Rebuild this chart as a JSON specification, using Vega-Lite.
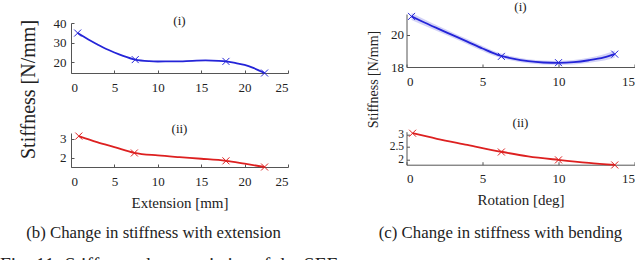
{
  "$schema": "https://vega.github.io/schema/vega-lite/v6.json",
  "padding": {"left": 0, "top": 0, "right": 0, "bottom": 0},
  "background": "white",
  "config": {
    "font": "Liberation Serif, Times New Roman, serif",
    "view": {"stroke": null},
    "axis": {
      "grid": false,
      "domainColor": "#555555",
      "tickColor": "#555555",
      "tickSize": -3,
      "labelFont": "Liberation Serif, Times New Roman, serif",
      "labelFontSize": 13,
      "labelColor": "#222222",
      "labelOverlap": false,
      "titleFont": "Liberation Serif, Times New Roman, serif",
      "titleFontSize": 15,
      "titleFontWeight": "normal",
      "titleColor": "#222222",
      "titlePadding": 7
    },
    "axisX": {"labelPadding": 11},
    "axisY": {"labelPadding": 8},
    "title": {"font": "Liberation Serif, Times New Roman, serif", "fontWeight": "normal", "fontSize": 13, "color": "#222222", "offset": 1}
  },
  "datasets": {
    "ext_i_curve": [
      {"extension": 0.77, "stiffness": 34.9},
      {"extension": 2, "stiffness": 31.6},
      {"extension": 3, "stiffness": 29.2},
      {"extension": 4, "stiffness": 26.9},
      {"extension": 5, "stiffness": 25.0},
      {"extension": 6, "stiffness": 23.3},
      {"extension": 7.4, "stiffness": 21.4},
      {"extension": 9, "stiffness": 20.6},
      {"extension": 10, "stiffness": 20.45},
      {"extension": 12, "stiffness": 20.5},
      {"extension": 14, "stiffness": 20.8},
      {"extension": 15.5, "stiffness": 21.0},
      {"extension": 17, "stiffness": 20.8},
      {"extension": 17.85, "stiffness": 20.5},
      {"extension": 19, "stiffness": 19.6},
      {"extension": 20, "stiffness": 18.7},
      {"extension": 21, "stiffness": 17.2},
      {"extension": 22.3, "stiffness": 14.6}
    ],
    "ext_i_points": [
      {"extension": 0.77, "stiffness": 34.9},
      {"extension": 7.4, "stiffness": 21.4},
      {"extension": 17.85, "stiffness": 20.5},
      {"extension": 22.3, "stiffness": 14.6}
    ],
    "ext_ii_curve": [
      {"extension": 0.9, "stiffness": 3.14},
      {"extension": 3, "stiffness": 2.83},
      {"extension": 5, "stiffness": 2.57},
      {"extension": 7.3, "stiffness": 2.27},
      {"extension": 10, "stiffness": 2.13},
      {"extension": 12.5, "stiffness": 2.04},
      {"extension": 15, "stiffness": 1.96},
      {"extension": 17.85, "stiffness": 1.85},
      {"extension": 20, "stiffness": 1.7},
      {"extension": 22.3, "stiffness": 1.53}
    ],
    "ext_ii_points": [
      {"extension": 0.9, "stiffness": 3.14},
      {"extension": 7.3, "stiffness": 2.26},
      {"extension": 17.85, "stiffness": 1.85},
      {"extension": 22.3, "stiffness": 1.53}
    ],
    "rot_i_curve": [
      {"rotation": 0.33, "stiffness": 21.15, "lower": 20.93, "upper": 21.37},
      {"rotation": 1, "stiffness": 20.85, "lower": 20.65, "upper": 21.05},
      {"rotation": 2, "stiffness": 20.42, "lower": 20.24, "upper": 20.6},
      {"rotation": 3, "stiffness": 20.0, "lower": 19.83, "upper": 20.17},
      {"rotation": 4, "stiffness": 19.58, "lower": 19.42, "upper": 19.74},
      {"rotation": 5, "stiffness": 19.15, "lower": 19.0, "upper": 19.3},
      {"rotation": 6, "stiffness": 18.76, "lower": 18.62, "upper": 18.9},
      {"rotation": 7, "stiffness": 18.52, "lower": 18.39, "upper": 18.65},
      {"rotation": 8, "stiffness": 18.36, "lower": 18.23, "upper": 18.49},
      {"rotation": 9, "stiffness": 18.28, "lower": 18.15, "upper": 18.41},
      {"rotation": 10, "stiffness": 18.26, "lower": 18.13, "upper": 18.39},
      {"rotation": 11, "stiffness": 18.3, "lower": 18.16, "upper": 18.44},
      {"rotation": 12, "stiffness": 18.42, "lower": 18.26, "upper": 18.58},
      {"rotation": 13, "stiffness": 18.6, "lower": 18.41, "upper": 18.79},
      {"rotation": 13.7, "stiffness": 18.8, "lower": 18.58, "upper": 19.02}
    ],
    "rot_i_points": [
      {"rotation": 0.33, "stiffness": 21.15},
      {"rotation": 6.24, "stiffness": 18.66},
      {"rotation": 10.0, "stiffness": 18.27},
      {"rotation": 13.7, "stiffness": 18.8}
    ],
    "rot_ii_curve": [
      {"rotation": 0.4, "stiffness": 3.04},
      {"rotation": 2, "stiffness": 2.82},
      {"rotation": 4, "stiffness": 2.58},
      {"rotation": 6.24, "stiffness": 2.31},
      {"rotation": 8, "stiffness": 2.13},
      {"rotation": 10, "stiffness": 1.99},
      {"rotation": 12, "stiffness": 1.87},
      {"rotation": 13.7, "stiffness": 1.79}
    ],
    "rot_ii_points": [
      {"rotation": 0.4, "stiffness": 3.04},
      {"rotation": 6.24, "stiffness": 2.3},
      {"rotation": 10.0, "stiffness": 1.99},
      {"rotation": 13.7, "stiffness": 1.79}
    ]
  },
  "title": {
    "text": "Fig. 11: Stiffness characteristics of the SEE",
    "orient": "bottom",
    "anchor": "start",
    "fontSize": 19.5,
    "offset": 14,
    "dx": -18.5
  },
  "spacing": 76.5,
  "hconcat": [
    {
      "title": {"text": "(b) Change in stiffness with extension", "orient": "bottom", "anchor": "middle", "fontSize": 16.8, "offset": 15},
      "bounds": "flush",
      "spacing": 60,
      "vconcat": [
        {
          "width": 217,
          "height": 59,
          "title": {"text": "(i)", "offset": -3, "dy": 10.5},
          "encoding": {
            "x": {"field": "extension", "type": "quantitative", "scale": {"domain": [0, 25]}, "axis": {"values": [0, 5, 10, 15, 20, 25], "title": null}},
            "y": {"field": "stiffness", "type": "quantitative", "scale": {"domain": [14.6, 40], "range": [59, 9]}, "axis": {"values": [20, 30, 40], "title": "Stiffness [N/mm]", "titleFontSize": 20, "titleX": -42.5, "titleY": 75, "titleBaseline": "middle", "titleAlign": "center", "titleAngle": -90}}
          },
          "layer": [
            {"data": {"name": "ext_i_curve"}, "mark": {"type": "line", "color": "#2424d8", "strokeWidth": 1.8, "interpolate": "monotone"}},
            {"data": {"name": "ext_i_points"}, "mark": {"type": "point", "shape": "M-1,-1L1,1M1,-1L-1,1", "size": 49, "filled": false, "color": "#2424d8", "strokeWidth": 1, "opacity": 1}}
          ]
        },
        {
          "width": 217,
          "height": 34,
          "title": {"text": "(ii)", "offset": -5},
          "encoding": {
            "x": {"field": "extension", "type": "quantitative", "scale": {"domain": [0, 25]}, "axis": {"values": [0, 5, 10, 15, 20, 25], "title": "Extension [mm]"}},
            "y": {"field": "stiffness", "type": "quantitative", "scale": {"domain": [1.53, 3.3]}, "axis": {"values": [2, 3], "title": null}}
          },
          "layer": [
            {"data": {"name": "ext_ii_curve"}, "mark": {"type": "line", "color": "#dd2020", "strokeWidth": 1.8, "interpolate": "monotone"}},
            {"data": {"name": "ext_ii_points"}, "mark": {"type": "point", "shape": "M-1,-1L1,1M1,-1L-1,1", "size": 49, "filled": false, "color": "#dd2020", "strokeWidth": 1, "opacity": 1}}
          ]
        }
      ]
    },
    {
      "title": {"text": "(c) Change in stiffness with bending", "orient": "bottom", "anchor": "middle", "fontSize": 16.8, "offset": 17},
      "bounds": "flush",
      "spacing": 64.7,
      "vconcat": [
        {
          "width": 228,
          "height": 53,
          "title": {"text": "(i)", "offset": -3},
          "encoding": {
            "x": {"field": "rotation", "type": "quantitative", "scale": {"domain": [0, 15]}, "axis": {"values": [0, 5, 10, 15], "title": null}},
            "y": {"field": "stiffness", "type": "quantitative", "scale": {"domain": [18, 21.3]}, "axis": {"values": [18, 20], "labelPadding": 6, "title": "Stiffness [N/mm]", "titleFontSize": 14, "titleX": -33.5, "titleY": 65, "titleBaseline": "middle", "titleAlign": "center", "titleAngle": -90}}
          },
          "layer": [
            {"data": {"name": "rot_i_curve"}, "mark": {"type": "area", "color": "#2424d8", "opacity": 0.2, "interpolate": "monotone"}, "encoding": {"y": {"field": "lower", "type": "quantitative"}, "y2": {"field": "upper"}}},
            {"data": {"name": "rot_i_curve"}, "mark": {"type": "line", "color": "#2424d8", "strokeWidth": 1.8, "interpolate": "monotone"}},
            {"data": {"name": "rot_i_points"}, "mark": {"type": "point", "shape": "M-1,-1L1,1M1,-1L-1,1", "size": 49, "filled": false, "color": "#2424d8", "strokeWidth": 1, "opacity": 1}}
          ]
        },
        {
          "width": 228,
          "height": 33,
          "title": {"text": "(ii)", "offset": -2.3},
          "encoding": {
            "x": {"field": "rotation", "type": "quantitative", "scale": {"domain": [0, 15]}, "axis": {"values": [0, 5, 10, 15], "title": "Rotation [deg]"}},
            "y": {"field": "stiffness", "type": "quantitative", "scale": {"domain": [1.8, 3.1]}, "axis": {"values": [2, 2.5, 3], "format": "~g", "labelPadding": 6, "labelFontSize": 11.5, "labelOverlap": false, "title": null}}
          },
          "layer": [
            {"data": {"name": "rot_ii_curve"}, "mark": {"type": "line", "color": "#dd2020", "strokeWidth": 1.8, "interpolate": "monotone"}},
            {"data": {"name": "rot_ii_points"}, "mark": {"type": "point", "shape": "M-1,-1L1,1M1,-1L-1,1", "size": 49, "filled": false, "color": "#dd2020", "strokeWidth": 1, "opacity": 1}}
          ]
        }
      ]
    }
  ]
}
